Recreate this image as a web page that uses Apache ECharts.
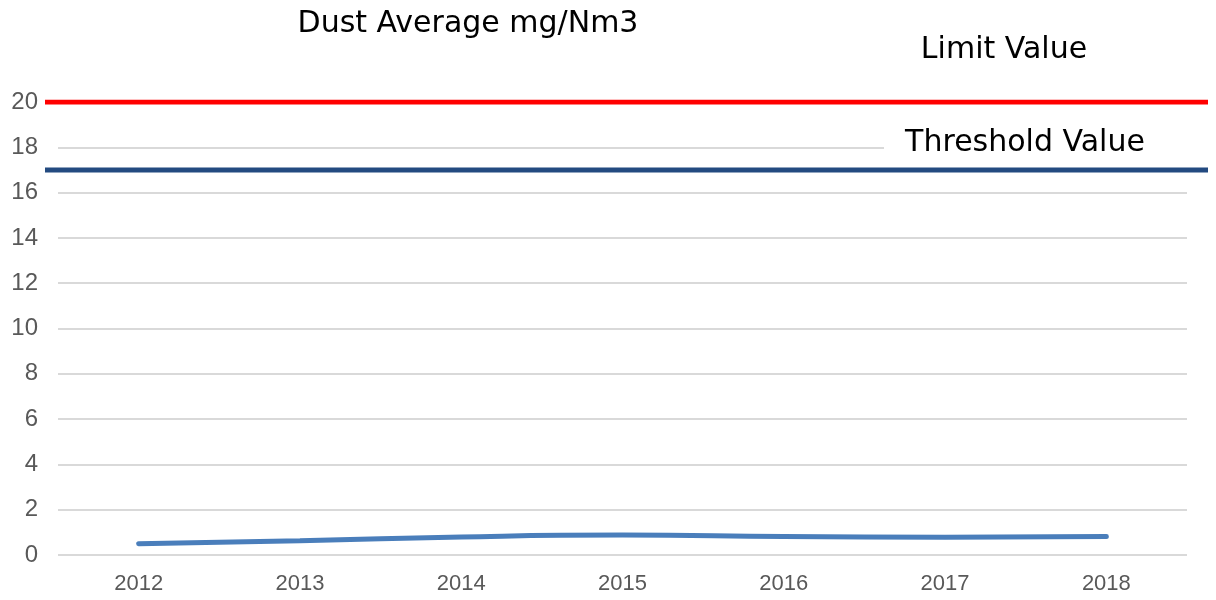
<!DOCTYPE html>
<html>
<head>
<meta charset="utf-8">
<script src="https://cdn.jsdelivr.net/npm/echarts@6/dist/echarts.min.js"></script>
<style>
  html, body { margin: 0; padding: 0; background: #fff; }
  #chart { width: 1216px; height: 600px; }
</style>
</head>
<body>
<div id="chart"></div>
<script>
// data
const years = ['2012', '2013', '2014', '2015', '2016', '2017', '2018'];
const dustAverage = [0.5, 0.63, 0.8, 0.88, 0.82, 0.78, 0.82];
const limitValue = 20;
const thresholdValue = 17;
const yTicks = { min: 0, max: 20, interval: 2 };

const chart = echarts.init(document.getElementById('chart'));

const labelFont = 'Liberation Sans';
const titleFont = 'DejaVu Sans';

const option = {
    animation: false,
    backgroundColor: '#fff',
    title: {
        text: 'Dust Average mg/Nm3',
        left: 463,
        top: 4,
        textAlign: 'center',
        textStyle: {
            fontFamily: titleFont,
            fontSize: 30,
            fontWeight: 'normal',
            color: '#000',
        },
    },
    grid: [
        // main plot
        { left: 58, right: 29, top: 102, bottom: 45 },
        // wider area for the reference lines, same vertical scale
        { left: 45, right: 8, top: 102, bottom: 45 },
    ],
    xAxis: [
        {
            type: 'category',
            gridIndex: 0,
            data: years,
            boundaryGap: true,
            axisLine: { show: false },
            axisTick: { show: false },
            axisLabel: {
                fontFamily: labelFont,
                fontSize: 22,
                color: '#595959',
                margin: 18,
            },
        },
        {
            type: 'value',
            gridIndex: 1,
            min: 0,
            max: 1,
            show: false,
        },
    ],
    yAxis: [
        {
            type: 'value',
            gridIndex: 0,
            min: yTicks.min,
            max: yTicks.max,
            interval: yTicks.interval,
            axisLine: { show: false },
            axisTick: { show: false },
            axisLabel: {
                fontFamily: labelFont,
                fontSize: 24,
                color: '#595959',
                margin: 20,
            },
            splitLine: {
                lineStyle: { color: '#d9d9d9', width: 2 },
            },
        },
        {
            type: 'value',
            gridIndex: 1,
            min: yTicks.min,
            max: yTicks.max,
            show: false,
        },
    ],
    graphic: [
        {
            type: 'rect',
            shape: { x: 884, y: 126, width: 310, height: 34 },
            style: { fill: '#fff' },
            z: 1,
        },
        {
            type: 'text',
            x: 1004,
            y: 50,
            style: {
                text: 'Limit Value',
                fontFamily: titleFont,
                fontSize: 30,
                fill: '#000',
                align: 'center',
                verticalAlign: 'middle',
            },
            z: 5,
        },
        {
            type: 'text',
            x: 1025,
            y: 143,
            style: {
                text: 'Threshold Value',
                fontFamily: titleFont,
                fontSize: 30,
                fill: '#000',
                align: 'center',
                verticalAlign: 'middle',
            },
            z: 5,
        },
    ],
    series: [
        {
            name: 'Dust Average',
            type: 'line',
            xAxisIndex: 0,
            yAxisIndex: 0,
            data: dustAverage,
            smooth: true,
            showSymbol: false,
            lineStyle: { color: '#4a7ebb', width: 5, cap: 'round' },
            z: 3,
        },
        {
            name: 'Limit Value',
            type: 'line',
            xAxisIndex: 1,
            yAxisIndex: 1,
            data: [[0, limitValue], [1, limitValue]],
            showSymbol: false,
            lineStyle: { color: '#ff0000', width: 5 },
            z: 3,
        },
        {
            name: 'Threshold Value',
            type: 'line',
            xAxisIndex: 1,
            yAxisIndex: 1,
            data: [[0, thresholdValue], [1, thresholdValue]],
            showSymbol: false,
            lineStyle: { color: '#234a80', width: 5 },
            z: 3,
        },
    ],
};

chart.setOption(option);

window.addEventListener('resize', () => chart.resize());
</script>
</body>
</html>
